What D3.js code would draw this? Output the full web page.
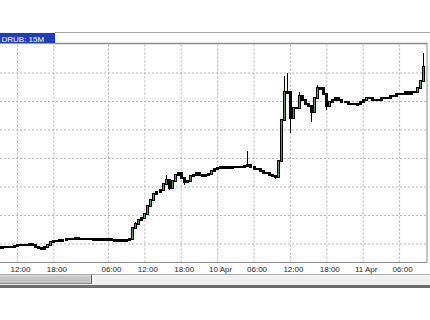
<!DOCTYPE html>
<html><head><meta charset="utf-8">
<script src="https://cdn.jsdelivr.net/npm/d3@7"></script>
<style>
html,body{margin:0;padding:0;background:#fff;overflow:hidden;}
svg{display:block;}
</style></head>
<body>
<svg id="c" width="430" height="320"></svg>
<script>
// 30-minute closes (USDRUB)
const closes = [
 56.86,56.86,56.88,56.89,56.88,56.91,56.93,56.95,56.96,56.96,
 56.98,56.93,56.88,56.84,56.82,56.86,56.96,57.05,57.07,57.09,
 57.11,57.12,57.14,57.16,57.16,57.18,57.16,57.16,57.14,57.16,
 57.14,57.14,57.14,57.14,57.14,57.12,57.14,57.12,57.11,57.09,
 57.11,57.12,57.12,57.16,57.53,57.67,57.81,57.88,58.05,58.33,
 58.54,58.72,58.79,58.86,59.07,59.21,58.96,59.18,59.42,59.46,
 59.28,59.14,59.18,59.35,59.42,59.46,59.40,59.39,59.39,59.44,
 59.53,59.61,59.65,59.67,59.67,59.67,59.68,59.68,59.70,59.70,
 59.70,59.72,59.74,59.67,59.63,59.60,59.53,59.49,59.46,59.40,
 59.35,59.32,59.91,61.32,62.30,62.30,61.39,61.77,61.74,62.19,
 62.02,61.91,61.84,61.60,62.09,62.44,62.44,62.23,61.84,61.98,
 62.05,62.09,62.02,61.98,61.95,61.91,61.91,61.88,61.88,61.95,
 62.02,62.12,62.09,62.05,62.02,62.05,62.09,62.12,62.12,62.16,
 62.19,62.23,62.26,62.26,62.30,62.26,62.30,62.33,62.44,62.72,
 63.21];
const highBars   = [45, 55, 82, 94, 95, 99, 105, 140];
const highValues = [57.74, 59.39, 60.26, 62.89, 63.00, 62.30, 62.55, 63.70];
const lowBars    = [50, 56, 61, 91, 96, 103, 108];
const lowValues  = [58.40, 58.86, 59.04, 59.25, 60.89, 61.25, 61.70];
const tickBars   = [6, 18, 36, 48, 60, 72, 84, 96, 108, 120, 132];
const tickLabels = ["12:00","18:00","06:00","12:00","18:00","10 Apr","06:00","12:00","18:00","11 Apr","06:00"];
const gridPrices = [57, 58, 59, 60, 61, 62, 63];
const symbolLabel = "DRUB: 15M";

const svg = d3.select("#c");
const L = 0, R = 427, T = 43.5, B = 262.5;
const x = d3.scaleLinear().domain([0.4, 141.2]).range([L, R]);
const y = d3.scaleLinear().domain([56.33, 64.02]).range([B, T]);

// top thin line + title label
svg.append("line").attr("x1", 55).attr("x2", 430).attr("y1", 32.5).attr("y2", 32.5)
  .attr("stroke", "#a8a8a8").attr("stroke-width", 1);
svg.append("rect").attr("x", 0).attr("y", 33).attr("width", 55).attr("height", 10.5).attr("fill", "#1f3dbf");
svg.append("text").attr("x", 1.5).attr("y", 41.5).text(symbolLabel)
  .attr("fill", "#fff").attr("font-family", "Liberation Sans, Arial, sans-serif").attr("font-size", 8);

// grid (via axes)
const gx = svg.append("g").attr("transform", `translate(0,${B})`)
  .call(d3.axisBottom(x).tickValues(tickBars).tickSize(-(B - T)).tickFormat(""));
gx.select(".domain").remove();
gx.selectAll(".tick line").attr("stroke", "#b4b4b4").attr("stroke-dasharray", "2,2");
const gy = svg.append("g").attr("transform", `translate(${L},0)`)
  .call(d3.axisRight(y).tickValues(gridPrices).tickSize(R - L).tickFormat(""));
gy.select(".domain").remove();
gy.selectAll(".tick line").attr("stroke", "#b4b4b4").attr("stroke-dasharray", "2,2");

// frame
svg.append("line").attr("x1", 55).attr("x2", R + 0.5).attr("y1", T).attr("y2", T).attr("stroke", "#8c8c8c").attr("stroke-width", 1.5);
svg.append("line").attr("x1", R).attr("x2", R).attr("y1", T).attr("y2", B).attr("stroke", "#8c8c8c");
svg.append("line").attr("x1", 0).attr("x2", R).attr("y1", B).attr("y2", B).attr("stroke", "#8c8c8c");

// candles
const hiMap = new Map(highBars.map((b, i) => [b, highValues[i]]));
const loMap = new Map(lowBars.map((b, i) => [b, lowValues[i]]));
const bars = closes.map((c, i) => {
  const o = i === 0 ? c : closes[i - 1];
  const h = Math.max(o, c, hiMap.has(i) ? hiMap.get(i) : -Infinity);
  const l = Math.min(o, c, loMap.has(i) ? loMap.get(i) : Infinity);
  return {i, o, c, h, l};
});
const cg = svg.append("g").attr("shape-rendering", "crispEdges");
cg.selectAll("line.w").data(bars).join("line").attr("class", "w")
  .attr("x1", d => Math.round(x(d.i)) + 0.5).attr("x2", d => Math.round(x(d.i)) + 0.5)
  .attr("y1", d => y(d.h)).attr("y2", d => y(d.l)).attr("stroke", "#000");
cg.selectAll("rect.b").data(bars).join("rect").attr("class", "b")
  .attr("x", d => Math.round(x(d.i)) - 1).attr("width", 3)
  .attr("y", d => Math.min(y(d.o), y(d.c)) - 1)
  .attr("height", d => Math.max(2.5, Math.abs(y(d.o) - y(d.c)) + 2))
  .attr("fill", "#000");
cg.selectAll("rect.g").data(bars.filter(d => d.c > d.o && Math.abs(y(d.o) - y(d.c)) >= 2.5)).join("rect").attr("class", "g")
  .attr("x", d => Math.round(x(d.i))).attr("width", 1)
  .attr("y", d => y(d.c))
  .attr("height", d => Math.abs(y(d.o) - y(d.c)))
  .attr("fill", "#4e9a5c");

// time labels
const ax = svg.append("g").attr("transform", `translate(3,${B})`)
  .call(d3.axisBottom(x).tickValues(tickBars).tickSize(0).tickPadding(3.5)
    .tickFormat((d, k) => tickLabels[k]));
ax.select(".domain").remove();
ax.selectAll("text").attr("font-family", "Liberation Sans, Arial, sans-serif")
  .attr("font-size", 8).attr("fill", "#222");

// scrollbar
svg.append("rect").attr("x", 0).attr("y", 274).attr("width", 430).attr("height", 11).attr("fill", "#f0f0f0");
svg.append("line").attr("x1", 0).attr("x2", 430).attr("y1", 274.5).attr("y2", 274.5).attr("stroke", "#b0b0b0");
svg.append("rect").attr("x", 0).attr("y", 275).attr("width", 92).attr("height", 9).attr("fill", "#c4c4c4");
svg.append("line").attr("x1", 0).attr("x2", 92).attr("y1", 276).attr("y2", 276).attr("stroke", "#e0e0e0");
svg.append("line").attr("x1", 91.5).attr("x2", 91.5).attr("y1", 275).attr("y2", 284).attr("stroke", "#666");
svg.append("line").attr("x1", 0).attr("x2", 92).attr("y1", 283.5).attr("y2", 283.5).attr("stroke", "#888");
svg.append("rect").attr("x", 0).attr("y", 285).attr("width", 430).attr("height", 3).attr("fill", "#6c6c6c");
</script>
</body></html>
